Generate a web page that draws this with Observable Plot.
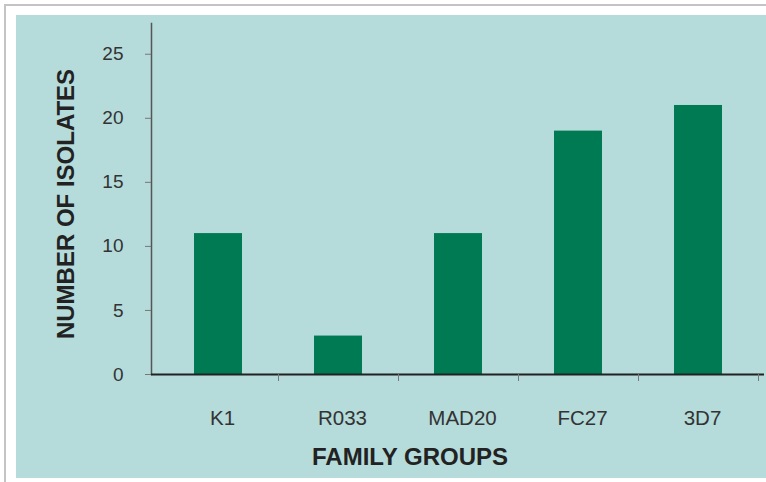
<!DOCTYPE html>
<html><head><meta charset="utf-8">
<script src="https://cdn.jsdelivr.net/npm/d3@7"></script>
<script src="https://cdn.jsdelivr.net/npm/@observablehq/plot@0.6"></script>
<style>
html,body{margin:0;padding:0;background:#fff;width:766px;height:482px;overflow:hidden;font-family:"Liberation Sans",Arial,sans-serif}
#border{position:absolute;left:4px;top:4px;width:762px;height:478px;border-left:2px solid #c4c4c4;border-top:2px solid #c4c4c4}
#bg{position:absolute;left:16px;top:15px;width:750px;height:463px;background:#b5dbdb}
#chart{position:absolute;left:0;top:0}
</style></head><body>
<div id="border"></div><div id="bg"></div><div id="chart"></div>
<script>
const categories = ["K1", "R033", "MAD20", "FC27", "3D7"];
const isolates = [11, 3, 11, 19, 21];
const yTicks = [0, 5, 10, 15, 20, 25];
const yTitle = "NUMBER OF ISOLATES";
const xTitle = "FAMILY GROUPS";

const data = categories.map((c, i) => ({family: c, count: isolates[i]}));

const chart = Plot.plot({
  width: 766, height: 482,
  marginLeft: 151, marginRight: 2, marginTop: 23, marginBottom: 108,
  style: {background: "transparent", fontFamily: "Liberation Sans, Arial, sans-serif", color: "#333"},
  x: {domain: categories, range: [158, 758], paddingInner: 0.6, paddingOuter: 0.3},
  y: {domain: [0, 27.4]},
  marks: [
    Plot.barY(data, {x: "family", y: "count", fill: "#007a52"}),
    Plot.frame({anchor: "left", stroke: "#555", strokeWidth: 1.5}),
    Plot.ruleY([0], {stroke: "#222", strokeWidth: 2}),
    Plot.axisY({ticks: yTicks, tickSize: 6, tickPadding: 22, fontSize: 19, label: null, stroke: "#777", fill: "#333"}),
    Plot.axisX({tickSize: 7, dx: 60, tickFormat: () => "", label: null, stroke: "#777"}),
    Plot.axisX({tickSize: 0, tickPadding: 36, fontSize: 20.5, label: null, dx: 4, fill: "#333"}),
    Plot.text([yTitle], {text: d => d, frameAnchor: "left", rotate: -90, dx: -85, dy: 5,
      textAnchor: "middle", lineAnchor: "middle", fontSize: 24, fontWeight: "bold", fill: "#222"}),
    Plot.text([xTitle], {text: d => d, frameAnchor: "bottom", dx: -48, dy: 83,
      textAnchor: "middle", lineAnchor: "middle", fontSize: 24, fontWeight: "bold", fill: "#222"})
  ]
});
document.getElementById("chart").appendChild(chart);
</script>
</body></html>
